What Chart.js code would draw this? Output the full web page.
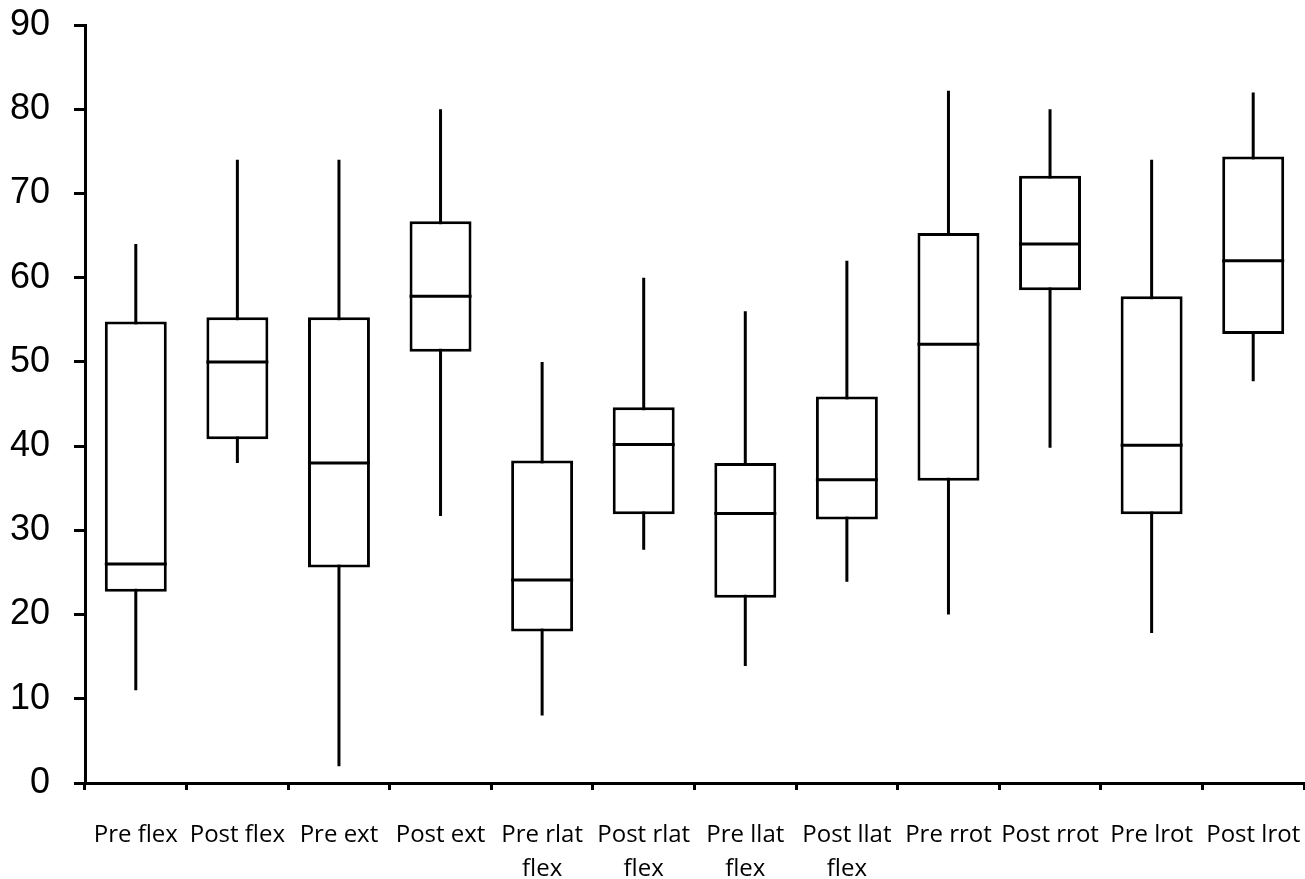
<!DOCTYPE html>
<html lang="en">
<head>
    <meta charset="UTF-8">
    <title>Range of motion</title>
    <script src="https://cdn.jsdelivr.net/npm/chart.js"></script>
    <style>
        html, body { margin: 0; padding: 0; background: #fff; }
        #wrap { width: 1305px; height: 879px; }
    </style>
</head>
<body>
    <div id="wrap"><canvas id="grafico"></canvas></div>

    <script>
        // Categories and box plot values
        const labels = ['Pre flex', 'Post flex', 'Pre ext', 'Post ext', ['Pre rlat', 'flex'], ['Post rlat', 'flex'],
                        ['Pre llat', 'flex'], ['Post llat', 'flex'], 'Pre rrot', 'Post rrot', 'Pre lrot', 'Post lrot'];
        const minValues    = [11, 38,  2,   31.7, 8,  27.7, 13.9, 23.9, 20,   39.8, 17.8, 47.7];
        const q1Values     = [22.7, 40.8, 25.6, 51.2, 18, 31.9, 22, 31.3, 35.9, 58.5, 31.9, 53.3];
        const medianValues = [26, 50, 38, 57.8, 24.1, 40.2, 32, 36, 52.1, 64, 40.1, 62];
        const q3Values     = [54.8, 55.3, 55.3, 66.7, 38.3, 44.6, 38, 45.9, 65.3, 72.1, 57.8, 74.4];
        const maxValues    = [64, 74, 74, 80, 50, 60, 56, 62, 82.2, 80, 74, 82];
        const yTicks = [0, 10, 20, 30, 40, 50, 60, 70, 80, 90];

        const boxes = q1Values.map((q1, i) => [q1, q3Values[i]]);

        // Whiskers below the boxes, medians on top
        const boxPlotLines = {
            id: 'boxPlotLines',
            beforeDatasetsDraw(chart) {
                const { ctx, scales: { x, y } } = chart;
                ctx.save();
                ctx.strokeStyle = '#000';
                ctx.lineWidth = 3;
                minValues.forEach((mn, i) => {
                    const px = x.getPixelForValue(i);
                    ctx.beginPath();
                    ctx.moveTo(px, y.getPixelForValue(mn));
                    ctx.lineTo(px, y.getPixelForValue(maxValues[i]));
                    ctx.stroke();
                });
                ctx.restore();
            },
            afterDatasetsDraw(chart) {
                const { ctx, scales: { y } } = chart;
                const meta = chart.getDatasetMeta(0);
                ctx.save();
                ctx.strokeStyle = '#000';
                ctx.lineWidth = 3;
                meta.data.forEach((bar, i) => {
                    const py = y.getPixelForValue(medianValues[i]);
                    ctx.beginPath();
                    ctx.moveTo(bar.x - bar.width / 2, py);
                    ctx.lineTo(bar.x + bar.width / 2, py);
                    ctx.stroke();
                });
                ctx.restore();
            }
        };

        const ctx = document.getElementById('grafico').getContext('2d');
        const chart = new Chart(ctx, {
            type: 'bar',
            data: {
                labels: labels,
                datasets: [{
                    label: 'Box',
                    data: boxes,
                    backgroundColor: '#fff',
                    borderColor: '#000',
                    borderWidth: 3,
                    borderSkipped: false,
                    barPercentage: 0.61,
                    categoryPercentage: 1.0
                }]
            },
            options: {
                responsive: true,
                maintainAspectRatio: false,
                animation: false,
                layout: { padding: 0 },
                plugins: {
                    legend: { display: false },
                    tooltip: { enabled: false }
                },
                scales: {
                    x: {
                        offset: true,
                        afterFit: scale => {
                            scale.height = 96;
                            scale.paddingLeft = 0;
                            scale.paddingRight = 1;
                        },
                        grid: {
                            offset: true,
                            drawOnChartArea: false,
                            tickLength: 7,
                            tickWidth: 3,
                            tickColor: '#000'
                        },
                        border: { color: '#000', width: 3 },
                        ticks: {
                            color: '#000',
                            padding: 28,
                            maxRotation: 0,
                            autoSkip: false,
                            font: { family: 'Open Sans', size: 24, lineHeight: 1.42 }
                        }
                    },
                    y: {
                        min: 0,
                        max: 90,
                        afterBuildTicks: axis => { axis.ticks = yTicks.map(v => ({ value: v })); },
                        afterFit: scale => {
                            scale.width = 85;
                            scale.paddingTop = 25;
                            scale.paddingBottom = 0;
                        },
                        grid: {
                            drawOnChartArea: false,
                            tickLength: 11,
                            tickWidth: 3,
                            tickColor: '#000'
                        },
                        border: { color: '#000', width: 3 },
                        ticks: {
                            color: '#000',
                            padding: 24,
                            font: { family: 'Liberation Sans', size: 36 }
                        }
                    }
                }
            },
            plugins: [boxPlotLines]
        });
    </script>
</body>
</html>
